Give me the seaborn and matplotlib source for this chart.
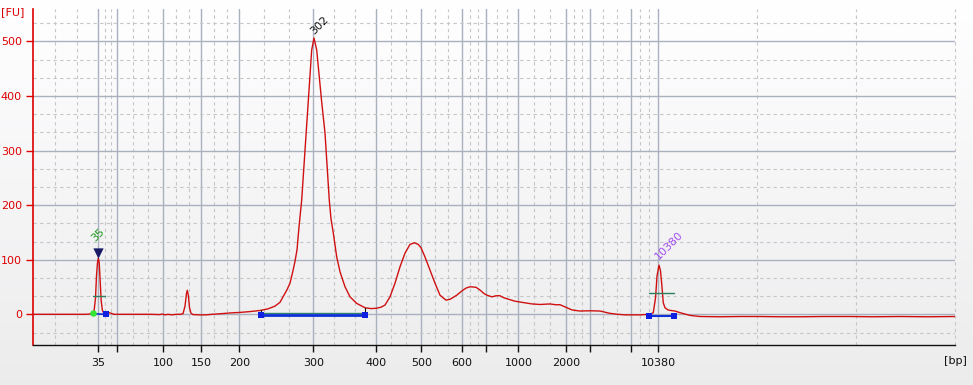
import numpy as np
import pandas as pd
import matplotlib
matplotlib.use("Agg")
import matplotlib.pyplot as plt
import seaborn as sns

# ---------------- data ----------------
ladder_bp = [35, 50, 100, 150, 200, 300, 400, 500, 600, 700, 1000, 2000, 3000, 7000, 10380]
ladder_time = [42.29, 44.66, 50.41, 55.16, 59.91, 69.16, 77.04, 82.65, 87.69, 90.69,
               94.81, 100.81, 103.70, 108.88, 112.29]
ladder_label = ["35", "", "100", "150", "200", "300", "400", "500", "600", "",
                "1000", "2000", "", "", "10380"]
time_range = [34.125, 149.375]
fu_range = [-56.2, 559.2]
fu_ticks = [0, 100, 200, 300, 400, 500]

time_s = [34.1, 37.5, 40.6, 41.25, 41.5, 41.75, 41.94, 42.06, 42.19, 42.29, 42.4, 42.53,
          42.65, 42.79, 42.94, 43.125, 43.375, 43.625, 43.875, 44.25, 45.0, 48.75, 50.0,
          50.25, 50.625, 51.0, 51.5, 52.0, 52.5, 52.875, 53.125, 53.31, 53.41, 53.54,
          53.69, 53.875, 54.125, 55.0, 55.75, 56.5, 57.5, 58.75, 60.0, 61.25, 62.5, 63.5,
          64.375, 65.0, 65.375, 65.875, 66.25, 66.625, 66.875, 67.125, 67.375, 67.71,
          68.125, 68.54, 68.96, 69.25, 69.59, 70.19, 70.625, 71.16, 71.375, 71.66, 72.09,
          72.5, 73.125, 73.75, 74.59, 75.625, 76.375, 77.0, 77.625, 78.125, 78.75, 79.375,
          80.0, 80.625, 81.25, 81.79, 82.29, 82.625, 83.125, 83.75, 84.375, 85.0, 85.75,
          86.25, 87.09, 87.75, 88.25, 88.75, 89.5, 90.0, 90.5, 90.875, 91.5, 92.0, 92.5,
          92.875, 93.25, 94.375, 95.625, 96.5, 97.5, 98.75, 99.5, 100.0, 100.75, 101.5,
          102.5, 103.75, 105.0, 105.625, 106.25, 107.25, 108.125, 110.0, 111.25, 111.66,
          111.94, 112.125, 112.375, 112.56, 112.75, 112.91, 113.125, 113.5, 113.875,
          114.375, 115.0, 115.625, 116.25, 117.5, 120.0, 122.5, 125.0, 127.5, 130.0,
          133.0, 136.25, 139.0, 142.5, 146.0, 149.375]
fu = [0, 0, 0, 0.5, 3, 5, 30, 70, 95, 103, 95, 60,
      25, 8, 3, 2, 2, 3, 2, 0, 0, 0, -0.5,
      0.5, -1, 0, -1, 0, 0, 1, 15, 38, 44, 35,
      12, 2, -0.5, -1, -1, 0, 1, 2.5, 3.5, 5, 7, 10,
      15, 22, 32, 45, 57, 80, 97, 118, 160, 209,
      301, 392, 484, 506, 484, 392, 332, 209, 175, 149, 105,
      78, 50.5, 32, 20, 12, 10.5, 11, 13, 17, 32, 57,
      87, 112, 128, 131, 128, 122, 105, 81, 57, 35, 26,
      27.5, 35, 43, 48, 50.5, 49.5, 44.5, 38, 35, 32, 34, 34,
      31, 29, 24, 21, 19, 18, 19, 17.5, 17.6, 12.8, 8,
      6, 6.5, 6, 4, 1.8, 0, -1, -1, 0, 3,
      30, 70, 90, 80, 50, 21, 12, 8, 7,
      6, 3, 0.5, -2, -4, -4.5, -4, -4, -4.5, -4.5,
      -4, -4, -4.5, -4, -4.5, -4]

# peak / marker annotations
peak_labels = ["35", "302", "10380"]
peak_label_time = [42.1, 69.45, 112.55]
peak_label_fu = [129, 509, 96]
peak_label_color = ["#1c9a1c", "#111111", "#a24ff0"]
lower_marker_time, lower_marker_fu = 42.25, 113
lower_start = (41.66, 3)
lower_end = (43.21, 0)
region_start, region_end = 62.625, 75.66
region_curve_fu = [7, 12]
upper_start, upper_end = 111.125, 114.29
upper_fu = -3.5
half_bars = [(41.625, 43.125, 34), (111.125, 114.25, 39)]

df = pd.DataFrame({"time_s": time_s, "fu": fu})

# ---------------- style ----------------
sns.set_theme(style="white")
plt.rcParams["font.family"] = ["DejaVu Sans"]

W, H = 973, 385
fig = plt.figure(figsize=(W / 100, H / 100), dpi=100)

# background gradient
bg = fig.add_axes([0, 0, 1, 1], zorder=-10)
grad = np.linspace(1.0, 0.925, 256).reshape(-1, 1)
bg.imshow(np.dstack([grad, grad, grad * 1.005]).clip(0, 1), aspect="auto",
          extent=[0, 1, 0, 1])
bg.set_axis_off()

ax = fig.add_axes([33 / W, 40 / H, 922 / W, 336 / H])
ax.set_facecolor("none")

sns.lineplot(data=df, x="time_s", y="fu", ax=ax, color="#d01010", lw=1.0,
             zorder=5, legend=False)

ax.set_xlim(time_range)
ax.set_ylim(fu_range)

# major / minor x ticks
ax.set_xticks(ladder_time)
ax.set_xticklabels(ladder_label, fontsize=8, color="#111111")
edges = [time_range[0]] + ladder_time + [time_range[1]]
minor_x = []
for a, b in zip(edges[:-1], edges[1:]):
    minor_x += [a + (b - a) / 3, a + 2 * (b - a) / 3]
ax.set_xticks(minor_x, minor=True)

ax.set_yticks(fu_ticks)
ax.set_yticklabels([str(v) for v in fu_ticks], fontsize=8, color="#dd0000")
minor_y = []
for v in [-100] + fu_ticks:
    minor_y += [v + 100 / 3, v + 200 / 3]
ax.set_yticks([m for m in minor_y if fu_range[0] < m < fu_range[1]], minor=True)

ax.tick_params(axis="x", which="major", direction="out", length=5, width=1,
               color="#111111", pad=4, bottom=True)
ax.tick_params(axis="y", which="major", direction="out", length=5, width=1,
               color="#dd0000", pad=3, left=True)
ax.tick_params(which="minor", length=0)

ax.grid(which="major", color="#aab0bd", lw=1.0, ls="-")
ax.grid(which="minor", color="#c6c6c6", lw=0.8, ls=(0, (3, 3)))
ax.set_axisbelow(True)
# dashed line closing the grid at the right edge
ax.axvline(time_range[1], color="#c6c6c6", lw=0.8, ls=(0, (3, 3)), clip_on=False,
           zorder=0.5)

for s in ["top", "right"]:
    ax.spines[s].set_visible(False)
ax.spines["left"].set_color("#dd0000")
ax.spines["left"].set_linewidth(1.2)
ax.spines["bottom"].set_color("#111111")
ax.spines["bottom"].set_linewidth(1.0)
ax.set_xlabel("")
ax.set_ylabel("")

# annotations
for txt, t, v, c in zip(peak_labels, peak_label_time, peak_label_fu, peak_label_color):
    ax.text(t, v, txt, rotation=45, rotation_mode="anchor", ha="left", va="bottom",
            fontsize=8, color=c, zorder=8)

ax.scatter([lower_marker_time], [lower_marker_fu], marker="v", s=55,
           color="#1a1a66", zorder=9, linewidths=0)

# lower marker region
ax.plot([lower_start[0], lower_end[0]], [lower_start[1] - 2, lower_end[1]],
        color="#1030d8", lw=1.2, zorder=6)
ax.scatter([lower_start[0]], [lower_start[1]], marker="o", s=22, color="#33e633",
           zorder=9, linewidths=0)
ax.scatter([lower_end[0]], [lower_end[1]], marker="s", s=18, color="#1020e0",
           zorder=9, linewidths=0)

# integration region of main peak
ax.plot([region_start, region_end], [3, 3], color="#2f7f70", lw=1.0, zorder=6)
ax.plot([region_start, region_end], [-1, -1], color="#1030d8", lw=2.0, zorder=6)
for t, cv in zip([region_start, region_end], region_curve_fu):
    ax.plot([t, t], [3, cv], color="#111111", lw=0.8, zorder=6)
ax.scatter([region_start, region_end], [-1, -1], marker="s", s=22, color="#1020e0",
           zorder=9, linewidths=0)

# upper marker region
ax.plot([upper_start, upper_end], [upper_fu, upper_fu], color="#1030d8", lw=1.5, zorder=6)
ax.scatter([upper_start, upper_end], [upper_fu, upper_fu], marker="s", s=22,
           color="#1020e0", zorder=9, linewidths=0)

for a, b, v in half_bars:
    ax.plot([a, b], [v, v], color="#2e7d5b", lw=1.0, zorder=7)

fig.text(1 / W, 1 - 12 / H, "[FU]", fontsize=8, color="#dd0000", ha="left", va="center")
fig.text(967 / W, 1 - 361 / H, "[bp]", fontsize=8, color="#111111", ha="right", va="center")

fig.savefig("out.png", dpi=100)
